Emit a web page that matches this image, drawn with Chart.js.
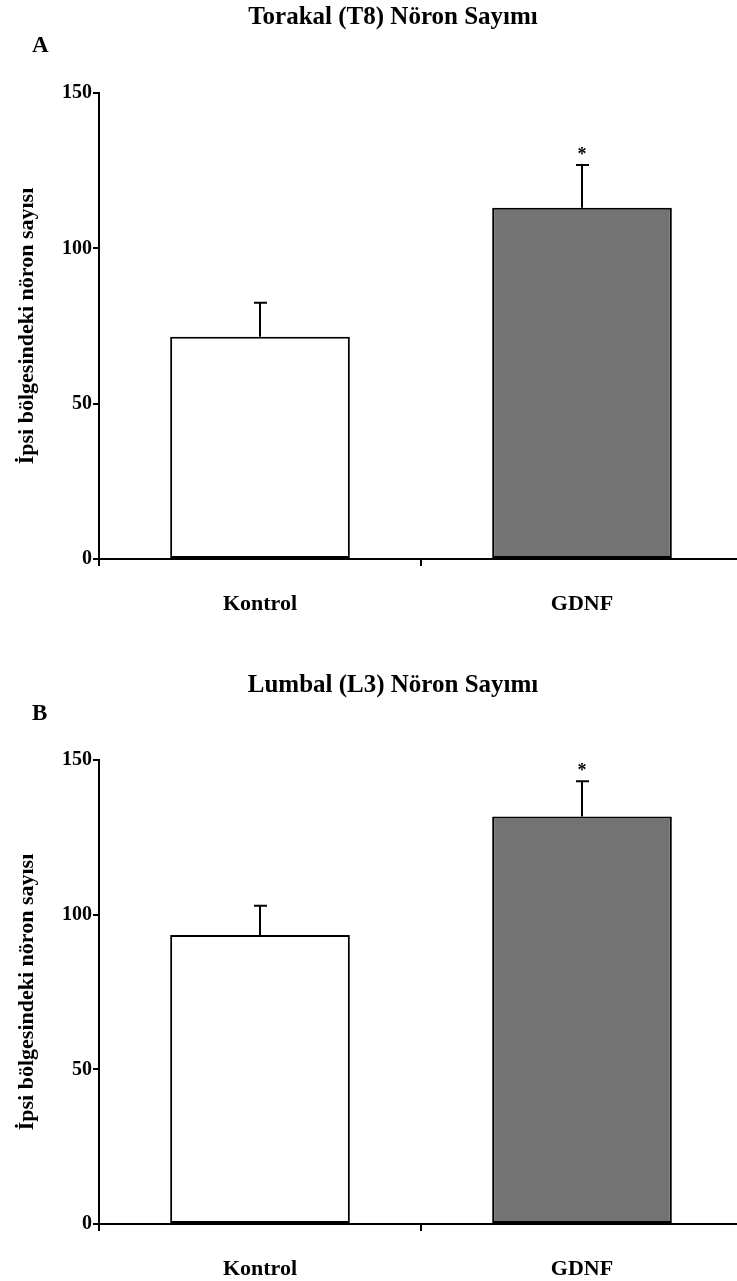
<!DOCTYPE html>
<html>
<head>
<meta charset="utf-8">
<script src="https://cdn.jsdelivr.net/npm/chart.js@4.4.1/dist/chart.umd.min.js"></script>
<style>
  html, body { margin: 0; padding: 0; background: #fff; width: 737px; height: 1281px; overflow: hidden; }
  .wrap { position: absolute; left: 0; width: 745px; }
  #wa { top: 0; height: 640px; }
  #wb { top: 640px; height: 641px; }
  canvas { display: block; }
</style>
</head>
<body>
<div class="wrap" id="wa"><canvas id="chartA" width="745" height="640"></canvas></div>
<div class="wrap" id="wb"><canvas id="chartB" width="745" height="641"></canvas></div>
<script>
// ---- data ----
const categories = ['Kontrol', 'GDNF'];
const thoracicMeans = [71.5, 113.1];
const thoracicSEM = [11.0, 13.7];
const lumbarMeans = [93.4, 131.7];
const lumbarSEM = [9.5, 11.4];
const significant = [false, true];
const yTickValues = [0, 50, 100, 150];
const titleA = 'Torakal (T8) Nöron Sayımı';
const titleB = 'Lumbal (L3) Nöron Sayımı';
const yAxisTitle = 'İpsi bölgesindeki nöron sayısı';
const barColors = ['#ffffff', '#737373'];

const SERIF = '"Liberation Serif", "Times New Roman", serif';

const annotPlugin = {
  id: 'annot',
  afterDatasetsDraw(chart) {
    const o = chart.options.plugins.annot;
    const ctx = chart.ctx;
    const meta = chart.getDatasetMeta(0);
    const ys = chart.scales.y;
    ctx.save();
    ctx.strokeStyle = '#000';
    ctx.lineWidth = 2;
    meta.data.forEach((bar, i) => {
      const top = ys.getPixelForValue(o.means[i] + o.sem[i]);
      ctx.beginPath();
      ctx.moveTo(bar.x, bar.y);
      ctx.lineTo(bar.x, top);
      ctx.moveTo(bar.x - 6, top);
      ctx.lineTo(bar.x + 7, top);
      ctx.stroke();
      if (o.sig[i]) {
        ctx.fillStyle = '#000';
        ctx.font = 'bold 18px ' + SERIF;
        ctx.textAlign = 'center';
        ctx.textBaseline = 'middle';
        ctx.fillText('*', bar.x, top - 10);
      }
    });
    ctx.restore();
  },
  afterDraw(chart) {
    const o = chart.options.plugins.annot;
    const ctx = chart.ctx;
    ctx.save();
    ctx.fillStyle = '#000';
    ctx.textBaseline = 'middle';
    ctx.textAlign = 'center';
    ctx.font = 'bold 25px ' + SERIF;
    ctx.fillText(o.title, o.titleX, o.titleY);
    ctx.textAlign = 'left';
    ctx.font = 'bold 23px ' + SERIF;
    ctx.fillText(o.letter, 32, o.letterY);
    ctx.restore();
  }
};

function makeChart(id, means, sem, opts) {
  return new Chart(document.getElementById(id), {
    type: 'bar',
    data: {
      labels: categories,
      datasets: [{
        data: means,
        backgroundColor: barColors,
        borderColor: '#000',
        borderWidth: 2,
        borderSkipped: false,
        barPercentage: 0.558,
        categoryPercentage: 1.0
      }]
    },
    options: {
      responsive: false,
      animation: false,
      events: [],
      layout: { padding: { left: 0, right: 2, top: opts.top, bottom: 0 } },
      plugins: {
        legend: { display: false },
        tooltip: { enabled: false },
        title: { display: false },
        annot: { means: means, sem: sem, sig: significant, title: opts.title, titleX: 393, titleY: opts.titleY, letter: opts.letter, letterY: opts.letterY }
      },
      scales: {
        x: {
          offset: true,
          afterFit: (s) => { s.height = opts.xHeight; },
          grid: { drawOnChartArea: false, drawTicks: true, tickLength: 7, color: '#000', lineWidth: 2, offset: true },
          border: { display: true, color: '#000', width: 2 },
          ticks: { color: '#000', padding: 25, font: { family: SERIF, size: 22, weight: 'bold' } }
        },
        y: {
          min: 0, max: 150,
          afterFit: (s) => { s.width = 99; },
          afterBuildTicks: (s) => { s.ticks = yTickValues.map(v => ({ value: v })); },
          grid: { drawOnChartArea: false, drawTicks: true, tickLength: 6, color: '#000', lineWidth: 2 },
          border: { display: true, color: '#000', width: 2 },
          ticks: { color: '#000', padding: 1, font: { family: SERIF, size: 20, weight: 'bold' } },
          title: { display: true, text: yAxisTitle, color: '#000', padding: { top: 14, bottom: 0 }, font: { family: SERIF, size: 22, weight: 'bold' } }
        }
      }
    },
    plugins: [annotPlugin]
  });
}

makeChart('chartA', thoracicMeans, thoracicSEM, { top: 93, xHeight: 81, title: titleA, titleY: 18, letter: 'A', letterY: 46 });
makeChart('chartB', lumbarMeans, lumbarSEM, { top: 120, xHeight: 57, title: titleB, titleY: 46, letter: 'B', letterY: 74 });
</script>
</body>
</html>
